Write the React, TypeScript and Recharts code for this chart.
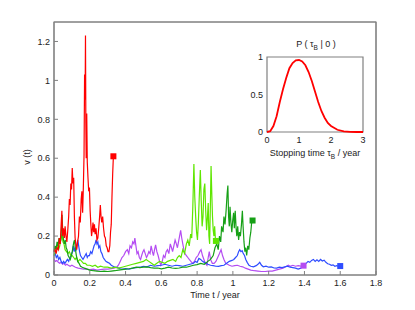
import { ComposedChart, LineChart, Line, Scatter, XAxis, YAxis, ReferenceArea } from "recharts";

type Pt = [number, number];

// sample paths v(t)
const redPath: Pt[] = [
  [0, 0.12], [0.006, 0.13], [0.012, 0.11], [0.018, 0.14], [0.024, 0.13], [0.03, 0.19], [0.035, 0.16],
  [0.04, 0.26], [0.044, 0.33], [0.048, 0.2], [0.053, 0.24], [0.058, 0.19], [0.062, 0.25], [0.067, 0.2],
  [0.072, 0.17], [0.077, 0.23], [0.082, 0.3], [0.086, 0.39], [0.09, 0.36], [0.094, 0.47], [0.098, 0.44],
  [0.102, 0.55], [0.106, 0.47], [0.11, 0.5], [0.114, 0.3], [0.118, 0.19], [0.122, 0.16], [0.127, 0.13],
  [0.132, 0.17], [0.137, 0.2], [0.142, 0.3], [0.147, 0.27], [0.152, 0.39], [0.156, 0.43], [0.16, 0.32],
  [0.164, 0.45], [0.168, 0.62], [0.171, 1.03], [0.174, 0.9], [0.176, 1.23], [0.178, 0.78], [0.18, 0.6],
  [0.183, 0.83], [0.186, 0.58], [0.19, 0.5], [0.194, 0.43], [0.198, 0.45], [0.202, 0.33], [0.206, 0.26],
  [0.21, 0.2], [0.214, 0.23], [0.218, 0.27], [0.222, 0.22], [0.226, 0.26], [0.23, 0.21], [0.235, 0.24],
  [0.24, 0.18], [0.245, 0.19], [0.25, 0.24], [0.255, 0.3], [0.259, 0.36], [0.263, 0.3], [0.267, 0.27],
  [0.272, 0.3], [0.277, 0.24], [0.282, 0.2], [0.287, 0.19], [0.292, 0.15], [0.297, 0.14], [0.302, 0.12],
  [0.307, 0.12], [0.312, 0.15], [0.316, 0.22], [0.32, 0.26], [0.324, 0.4], [0.328, 0.52], [0.332, 0.61],
];

const limePath: Pt[] = [
  [0, 0.1], [0.008, 0.12], [0.015, 0.14], [0.02, 0.16], [0.026, 0.13], [0.032, 0.15], [0.038, 0.18],
  [0.045, 0.21], [0.05, 0.17], [0.056, 0.16], [0.062, 0.13], [0.07, 0.12], [0.078, 0.11], [0.086, 0.12],
  [0.094, 0.1], [0.102, 0.1], [0.11, 0.09], [0.118, 0.08], [0.126, 0.09], [0.135, 0.07], [0.145, 0.08],
  [0.155, 0.07], [0.165, 0.06], [0.175, 0.06], [0.185, 0.05], [0.2, 0.05], [0.215, 0.045], [0.23, 0.05],
  [0.245, 0.04], [0.26, 0.045], [0.28, 0.04], [0.3, 0.04], [0.32, 0.035], [0.34, 0.04], [0.36, 0.035],
  [0.38, 0.04], [0.4, 0.045], [0.42, 0.05], [0.44, 0.055], [0.46, 0.06], [0.48, 0.065], [0.5, 0.07],
  [0.515, 0.08], [0.53, 0.07], [0.545, 0.06], [0.56, 0.05], [0.575, 0.06], [0.59, 0.07], [0.605, 0.065],
  [0.62, 0.06], [0.635, 0.07], [0.65, 0.075], [0.665, 0.08], [0.68, 0.07], [0.69, 0.09], [0.7, 0.1],
  [0.71, 0.09], [0.72, 0.13], [0.73, 0.11], [0.74, 0.16], [0.748, 0.18], [0.756, 0.15], [0.764, 0.21],
  [0.77, 0.19], [0.776, 0.35], [0.782, 0.57], [0.787, 0.4], [0.792, 0.3], [0.797, 0.22], [0.802, 0.18],
  [0.807, 0.27], [0.812, 0.4], [0.818, 0.54], [0.823, 0.38], [0.828, 0.25], [0.833, 0.3], [0.838, 0.44],
  [0.843, 0.47], [0.848, 0.33], [0.853, 0.23], [0.858, 0.3], [0.862, 0.37], [0.866, 0.2], [0.87, 0.16],
  [0.874, 0.35], [0.878, 0.56], [0.882, 0.42], [0.886, 0.3], [0.89, 0.23], [0.894, 0.2], [0.898, 0.25],
  [0.902, 0.19], [0.905, 0.175],
];

const greenPath: Pt[] = [
  [0, 0.12], [0.006, 0.15], [0.012, 0.13], [0.017, 0.17], [0.022, 0.15], [0.028, 0.19], [0.033, 0.16],
  [0.038, 0.18], [0.042, 0.24], [0.045, 0.31], [0.049, 0.22], [0.053, 0.18], [0.058, 0.16], [0.063, 0.18],
  [0.068, 0.14], [0.073, 0.13], [0.079, 0.1], [0.085, 0.09], [0.091, 0.08], [0.097, 0.1], [0.102, 0.12],
  [0.107, 0.15], [0.111, 0.17], [0.115, 0.18], [0.12, 0.13], [0.125, 0.1], [0.132, 0.07], [0.14, 0.06],
  [0.148, 0.045], [0.158, 0.04], [0.17, 0.035], [0.185, 0.03], [0.2, 0.025], [0.22, 0.022], [0.24, 0.02],
  [0.26, 0.018], [0.28, 0.02], [0.3, 0.018], [0.32, 0.02], [0.34, 0.022], [0.36, 0.025], [0.38, 0.028],
  [0.4, 0.03], [0.42, 0.032], [0.44, 0.035], [0.46, 0.04], [0.48, 0.038], [0.5, 0.04], [0.52, 0.042],
  [0.54, 0.038], [0.56, 0.035], [0.58, 0.036], [0.6, 0.032], [0.62, 0.035], [0.64, 0.04], [0.66, 0.036],
  [0.68, 0.034], [0.7, 0.036], [0.72, 0.04], [0.74, 0.04], [0.76, 0.045], [0.78, 0.05], [0.8, 0.053],
  [0.82, 0.06], [0.84, 0.055], [0.86, 0.07], [0.875, 0.08], [0.89, 0.1], [0.9, 0.14], [0.91, 0.16],
  [0.918, 0.13], [0.925, 0.2], [0.932, 0.17], [0.937, 0.25], [0.945, 0.22], [0.95, 0.3], [0.956, 0.26],
  [0.962, 0.33], [0.968, 0.42], [0.972, 0.46], [0.976, 0.3], [0.98, 0.25], [0.984, 0.35], [0.989, 0.27],
  [0.994, 0.22], [0.999, 0.28], [1.004, 0.32], [1.008, 0.24], [1.013, 0.33], [1.018, 0.24], [1.022, 0.2],
  [1.027, 0.25], [1.032, 0.18], [1.037, 0.22], [1.042, 0.2], [1.048, 0.26], [1.053, 0.33], [1.057, 0.25],
  [1.062, 0.17], [1.067, 0.12], [1.072, 0.14], [1.077, 0.1], [1.083, 0.15], [1.089, 0.13], [1.095, 0.19],
  [1.1, 0.22], [1.105, 0.27], [1.11, 0.28],
];

const bluePath: Pt[] = [
  [0, 0.1], [0.007, 0.11], [0.013, 0.09], [0.02, 0.1], [0.026, 0.08], [0.033, 0.09], [0.04, 0.07],
  [0.047, 0.06], [0.054, 0.07], [0.061, 0.06], [0.068, 0.07], [0.075, 0.08], [0.082, 0.07], [0.089, 0.09],
  [0.096, 0.1], [0.103, 0.12], [0.108, 0.15], [0.113, 0.12], [0.118, 0.14], [0.124, 0.13], [0.129, 0.16],
  [0.133, 0.18], [0.138, 0.15], [0.143, 0.12], [0.148, 0.1], [0.155, 0.09], [0.162, 0.08], [0.168, 0.09],
  [0.174, 0.1], [0.18, 0.11], [0.186, 0.09], [0.192, 0.1], [0.198, 0.1], [0.205, 0.12], [0.212, 0.11],
  [0.218, 0.13], [0.224, 0.15], [0.23, 0.16], [0.235, 0.18], [0.24, 0.16], [0.245, 0.17], [0.25, 0.14],
  [0.256, 0.15], [0.262, 0.12], [0.268, 0.11], [0.275, 0.09], [0.282, 0.08], [0.29, 0.07], [0.3, 0.065],
  [0.31, 0.06], [0.32, 0.05], [0.33, 0.045], [0.34, 0.04], [0.355, 0.038], [0.37, 0.032], [0.385, 0.03],
  [0.4, 0.033], [0.42, 0.03], [0.44, 0.035], [0.46, 0.038], [0.48, 0.04], [0.5, 0.045], [0.52, 0.042],
  [0.54, 0.05], [0.56, 0.045], [0.58, 0.048], [0.6, 0.05], [0.62, 0.055], [0.64, 0.05], [0.66, 0.045],
  [0.68, 0.05], [0.7, 0.048], [0.72, 0.045], [0.74, 0.05], [0.76, 0.055], [0.78, 0.06], [0.79, 0.07],
  [0.8, 0.065], [0.81, 0.085], [0.82, 0.08], [0.83, 0.07], [0.84, 0.065], [0.85, 0.06], [0.86, 0.055],
  [0.875, 0.05], [0.89, 0.048], [0.905, 0.045], [0.92, 0.044], [0.935, 0.048], [0.95, 0.05], [0.965, 0.06],
  [0.98, 0.07], [0.995, 0.075], [1.005, 0.08], [1.015, 0.09], [1.025, 0.1], [1.032, 0.12], [1.038, 0.13],
  [1.045, 0.12], [1.052, 0.125], [1.058, 0.11], [1.065, 0.1], [1.072, 0.08], [1.08, 0.065], [1.09, 0.05],
  [1.1, 0.045], [1.115, 0.042], [1.13, 0.048], [1.14, 0.055], [1.15, 0.065], [1.16, 0.05], [1.17, 0.042],
  [1.185, 0.045], [1.2, 0.04], [1.215, 0.042], [1.23, 0.036], [1.245, 0.035], [1.26, 0.04], [1.275, 0.038],
  [1.29, 0.042], [1.305, 0.045], [1.32, 0.04], [1.335, 0.038], [1.35, 0.035], [1.365, 0.03], [1.38, 0.035],
  [1.39, 0.045], [1.4, 0.055], [1.41, 0.06], [1.42, 0.07], [1.43, 0.065], [1.44, 0.075], [1.45, 0.08],
  [1.46, 0.07], [1.47, 0.078], [1.48, 0.07], [1.49, 0.08], [1.5, 0.072], [1.51, 0.076], [1.52, 0.065],
  [1.53, 0.058], [1.54, 0.055], [1.55, 0.05], [1.56, 0.052], [1.57, 0.045], [1.58, 0.048], [1.59, 0.045],
  [1.6, 0.046],
];

const purplePath: Pt[] = [
  [0, 0.08], [0.008, 0.07], [0.016, 0.075], [0.024, 0.065], [0.032, 0.06], [0.04, 0.065], [0.048, 0.055],
  [0.056, 0.06], [0.064, 0.05], [0.072, 0.055], [0.08, 0.05], [0.09, 0.045], [0.1, 0.05], [0.11, 0.045],
  [0.12, 0.04], [0.135, 0.035], [0.15, 0.033], [0.165, 0.03], [0.18, 0.03], [0.2, 0.028], [0.22, 0.03],
  [0.24, 0.025], [0.26, 0.028], [0.28, 0.03], [0.3, 0.03], [0.32, 0.033], [0.335, 0.035], [0.35, 0.04],
  [0.36, 0.05], [0.37, 0.07], [0.38, 0.09], [0.39, 0.1], [0.4, 0.12], [0.41, 0.13], [0.418, 0.11],
  [0.425, 0.15], [0.433, 0.14], [0.44, 0.17], [0.447, 0.16], [0.452, 0.19], [0.458, 0.15], [0.464, 0.11],
  [0.47, 0.12], [0.477, 0.09], [0.484, 0.08], [0.49, 0.1], [0.497, 0.12], [0.503, 0.13], [0.51, 0.11],
  [0.517, 0.09], [0.523, 0.1], [0.53, 0.12], [0.537, 0.11], [0.543, 0.15], [0.55, 0.12], [0.556, 0.1],
  [0.562, 0.13], [0.568, 0.155], [0.575, 0.12], [0.582, 0.1], [0.59, 0.07], [0.597, 0.05], [0.605, 0.07],
  [0.612, 0.1], [0.62, 0.09], [0.627, 0.12], [0.634, 0.13], [0.642, 0.11], [0.65, 0.16], [0.657, 0.14],
  [0.663, 0.12], [0.67, 0.15], [0.677, 0.18], [0.684, 0.16], [0.69, 0.14], [0.696, 0.17], [0.702, 0.2],
  [0.708, 0.23], [0.714, 0.19], [0.72, 0.16], [0.726, 0.13], [0.732, 0.11], [0.74, 0.1], [0.748, 0.09],
  [0.756, 0.08], [0.765, 0.07], [0.775, 0.06], [0.785, 0.07], [0.795, 0.09], [0.805, 0.1], [0.815, 0.12],
  [0.822, 0.13], [0.83, 0.1], [0.838, 0.08], [0.846, 0.06], [0.855, 0.05], [0.862, 0.09], [0.868, 0.12],
  [0.875, 0.08], [0.885, 0.06], [0.895, 0.06], [0.905, 0.07], [0.915, 0.09], [0.925, 0.11], [0.934, 0.13],
  [0.942, 0.1], [0.95, 0.08], [0.96, 0.06], [0.97, 0.055], [0.98, 0.05], [0.995, 0.045], [1.01, 0.048],
  [1.025, 0.05], [1.04, 0.045], [1.055, 0.042], [1.07, 0.035], [1.085, 0.03], [1.1, 0.025], [1.12, 0.022],
  [1.14, 0.02], [1.16, 0.018], [1.18, 0.018], [1.2, 0.02], [1.22, 0.02], [1.24, 0.025], [1.26, 0.03],
  [1.28, 0.035], [1.3, 0.045], [1.31, 0.05], [1.32, 0.045], [1.335, 0.05], [1.35, 0.045], [1.365, 0.048],
  [1.38, 0.046], [1.395, 0.048],
];

const xTicks = [0, 0.2, 0.4, 0.6, 0.8, 1, 1.2, 1.4, 1.6, 1.8];
const yTicks = [0, 0.2, 0.4, 0.6, 0.8, 1, 1.2];

// inset: P(tau_B | 0)
const tauB = [0, 0.1, 0.2, 0.3, 0.4, 0.5, 0.6, 0.7, 0.8, 0.9, 1, 1.1, 1.2, 1.3, 1.4, 1.5, 1.6, 1.7, 1.8, 1.9, 2, 2.2, 2.4, 2.6, 2.8, 3];
const probTau = [0, 0.01, 0.08, 0.21, 0.4, 0.57, 0.72, 0.85, 0.92, 0.955, 0.96, 0.94, 0.89, 0.8, 0.68, 0.54, 0.4, 0.28, 0.19, 0.12, 0.08, 0.03, 0.008, 0.002, 0, 0];
const insetXTicks = [0, 1, 2, 3];
const insetYTicks = [0, 0.5, 1];

const series = [
  { name: "purple", path: purplePath, color: "#b44cf2" },
  { name: "blue", path: bluePath, color: "#2f4dff" },
  { name: "lime", path: limePath, color: "#5fe600" },
  { name: "green", path: greenPath, color: "#16a016" },
  { name: "red", path: redPath, color: "#ff0000" },
];

const toRows = (p: Pt[]) => p.map(([t, v]) => ({ t, v }));
const insetRows = tauB.map((t, i) => ({ t, p: probTau[i] }));

const FRAME = "#808080";
const TXT = "#222";
const tickStyle = { fontSize: 9, fill: TXT };

const square = (color: string) => (props: any) => (
  <rect x={props.cx - 3} y={props.cy - 3} width={6} height={6} fill={color} />
);

const xTitle = () => (
  <text x={215} y={298} textAnchor="middle" fontSize={9} fill={TXT}>
    Time t / year
  </text>
);

const yTitle = () => (
  <text x={30} y={157} transform="rotate(-90 30 157)" textAnchor="middle" fontSize={9} fill={TXT}>
    v (t)
  </text>
);

const insetTitles = () => (
  <g fontSize={9} fill={TXT}>
    <text x={86} y={17} textAnchor="middle">
      <tspan>P ( τ</tspan>
      <tspan dy={2.5} fontSize={6.5}>B</tspan>
      <tspan dy={-2.5}> | 0 )</tspan>
    </text>
    <text x={85} y={126} textAnchor="middle">
      <tspan>Stopping time τ</tspan>
      <tspan dy={2.5} fontSize={6.5}>B</tspan>
      <tspan dy={-2.5}> / year</tspan>
    </text>
  </g>
);

export default function App() {
  return (
    <div
      style={{
        position: "absolute",
        left: 0,
        top: 0,
        width: 415,
        height: 310,
        background: "#fff",
        fontFamily: "'Liberation Sans', Arial, sans-serif",
      }}
    >
      <ComposedChart width={415} height={310} margin={{ top: 21, right: 38, bottom: 5, left: 0 }}>
        <XAxis
          type="number"
          dataKey="t"
          domain={[0, 1.8]}
          ticks={xTicks}
          height={30}
          stroke={FRAME}
          tickSize={-4}
          tickMargin={9}
          tick={tickStyle}
          allowDuplicatedCategory={false}
          label={xTitle}
        />
        <XAxis
          xAxisId="top"
          orientation="top"
          type="number"
          domain={[0, 1.8]}
          ticks={xTicks}
          height={1}
          stroke={FRAME}
          tickSize={-4}
          tickFormatter={() => ""}
        />
        <YAxis
          type="number"
          dataKey="v"
          domain={[0, 1.3]}
          ticks={yTicks}
          width={54}
          stroke={FRAME}
          tickSize={-4}
          tickMargin={8}
          tick={tickStyle}
          label={yTitle}
        />
        <YAxis
          yAxisId="right"
          orientation="right"
          type="number"
          domain={[0, 1.3]}
          ticks={yTicks}
          width={1}
          stroke={FRAME}
          tickSize={-4}
          tickFormatter={() => ""}
        />
        <ReferenceArea x1={0} x2={1.8} y1={0} y2={1.3} fill="none" stroke={FRAME} strokeWidth={1.2} />
        {series.map((s) => (
          <Line
            key={s.name}
            data={toRows(s.path)}
            dataKey="v"
            stroke={s.color}
            strokeWidth={1.2}
            dot={false}
            activeDot={false}
            isAnimationActive={false}
          />
        ))}
        {series.map((s) => (
          <Scatter
            key={s.name + "-end"}
            data={toRows(s.path.slice(-1))}
            fill={s.color}
            shape={square(s.color)}
            isAnimationActive={false}
          />
        ))}
      </ComposedChart>

      <div style={{ position: "absolute", left: 230, top: 30 }}>
        <LineChart width={150} height={132} data={insetRows} margin={{ top: 27, right: 17, bottom: 0, left: 0 }}>
          <XAxis
            type="number"
            dataKey="t"
            domain={[0, 3]}
            ticks={insetXTicks}
            height={30}
            axisLine={false}
            tickLine={false}
            tickSize={0}
            tickMargin={5}
            tick={tickStyle}
            label={insetTitles}
          />
          <YAxis
            type="number"
            domain={[0, 1]}
            ticks={insetYTicks}
            width={37}
            axisLine={false}
            tickLine={false}
            tickSize={0}
            tickMargin={4}
            tick={tickStyle}
          />
          <ReferenceArea x1={0} x2={3} y1={0} y2={1} fill="#fff" fillOpacity={1} stroke={FRAME} strokeWidth={1.2} />
          <Line dataKey="p" stroke="#ff0000" strokeWidth={1.8} dot={false} activeDot={false} isAnimationActive={false} />
        </LineChart>
      </div>
    </div>
  );
}
